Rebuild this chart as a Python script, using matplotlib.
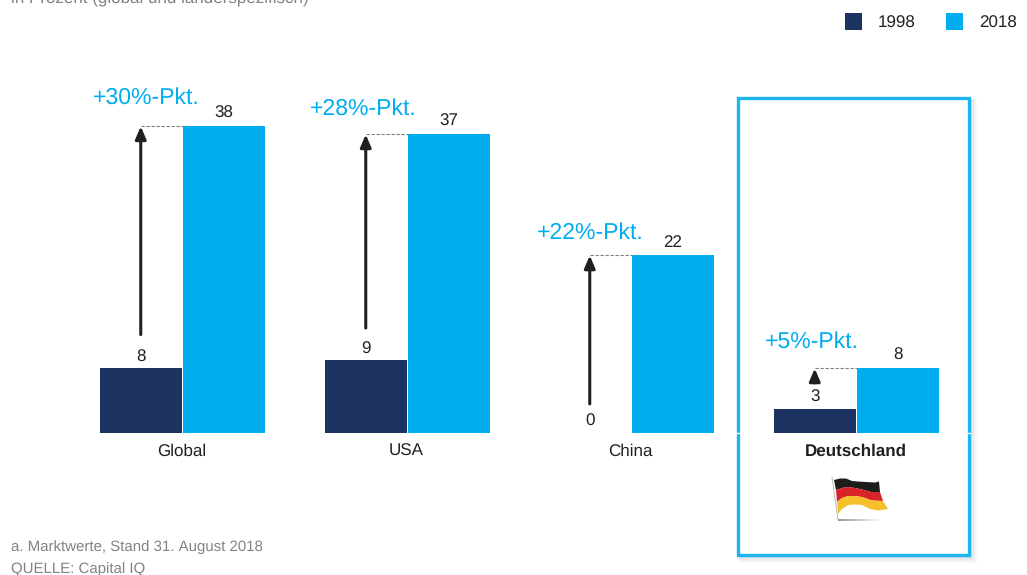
import matplotlib
matplotlib.use("Agg")
import matplotlib.pyplot as plt
import numpy as np
from matplotlib.patches import Rectangle, Polygon

plt.rcParams['font.family'] = ['Liberation Sans', 'DejaVu Sans']
plt.rcParams['text.hinting'] = 'no_hinting'
plt.rcParams['text.hinting_factor'] = 1
plt.rcParams['text.kerning_factor'] = 0

W, H = 1027, 575
BASE_Y = 433
PX_PER_UNIT = 8.07

countries = ['Global', 'USA', 'China', 'Deutschland']
values_1998 = [8, 9, 0, 3]
values_2018 = [38, 37, 22, 8]
changes = ['+30%-Pkt.', '+28%-Pkt.', '+22%-Pkt.', '+5%-Pkt.']
years = ['1998', '2018']

# layout of each group, in pixels
group_left = [100, 325, 549, 774]
change_dx = [6, -2.5, 1, -2.5]
change_rise = [29, 26, 23, 27]
arrow_start = [12.2, 13.0, 3.6, 6.2]
bar_w = 81.5
bar_gap = 1.5

navy = '#1c3260'
blue = '#00aeef'
dark = '#231f20'
grey = '#808285'

fig = plt.figure(figsize=(W / 100, H / 100), dpi=100, facecolor='white')

# overlay in pixel coordinates for frame, texts and flag
px = fig.add_axes([0, 0, 1, 1])
px.set_xlim(0, W)
px.set_ylim(H, 0)
px.axis('off')

# bars: x in pixels, y in data units with the baseline at BASE_Y
ax = fig.add_axes([0, 0, 1, 1], zorder=2)
ax.patch.set_alpha(0)
ax.set_xlim(0, W)
ax.set_ylim(-(H - BASE_Y) / PX_PER_UNIT, BASE_Y / PX_PER_UNIT)
ax.axis('off')

# highlight box with a soft shadow
for i in range(7, 0, -1):
    px.add_patch(Rectangle((738 + 1, 98 + 1), 231 + i, 457 + i, fc='black',
                           ec='none', alpha=0.02))
px.add_patch(Rectangle((738, 98), 231, 457, fc='white', ec='#1cb5f0', lw=2.4))

for i, name in enumerate(countries):
    left = group_left[i]
    x_old = left + bar_w / 2
    x_new = left + bar_w + bar_gap + bar_w / 2
    v_old, v_new = values_1998[i], values_2018[i]

    ax.bar(x_old, v_old, width=bar_w, color=navy)
    ax.bar(x_new, v_new, width=bar_w, color=blue)

    ax.text(x_new, v_new + 0.6, str(v_new), ha='center', va='bottom',
            fontsize=12.2, color=dark)
    ax.text(x_old, v_old + 0.4, str(v_old), ha='center',
            va='bottom', fontsize=12.2, color=dark)

    # dashed guide and rise arrow up to the new height
    ax.plot([x_old, x_new - bar_w / 2], [v_new, v_new], color='#808080',
            lw=0.8, ls=(0, (3, 1.5)))
    ax.annotate('', xy=(x_old, v_new), xytext=(x_old, arrow_start[i] if i != 3 else v_new - 1.8),
                arrowprops=dict(arrowstyle='-|>,head_width=0.32,head_length=0.75',
                                color=dark, lw=2.2, shrinkA=0, shrinkB=0))

    ax.text(x_old + change_dx[i], v_new + change_rise[i] / PX_PER_UNIT, changes[i],
            ha='center', va='center', fontsize=16.3, color=blue)

    px.text(left + bar_w, 456, name, ha='center', va='baseline',
            fontsize=12.2, color=dark,
            fontweight='bold' if name == 'Deutschland' else 'normal')

# white notch in the frame at the baseline
px.plot([737, 740], [BASE_Y, BASE_Y], color='white', lw=1, zorder=5)
px.plot([967, 970], [BASE_Y, BASE_Y], color='white', lw=1, zorder=5)

# legend
for label, color, x0 in zip(years, [navy, blue], [845, 946]):
    px.add_patch(Rectangle((x0, 13), 17, 17, fc=color, ec='none'))
    px.text(x0 + 33, 23, label, ha='left', va='center', fontsize=12.2, color=dark)

# subtitle running off the top edge, and footnotes
px.text(11, -2, 'in Prozent (global und länderspezifisch)', ha='left', va='center',
        fontsize=12.5, color=grey)
px.text(11, 547, 'a. Marktwerte, Stand 31. August 2018', ha='left', va='center',
        fontsize=11.15, color=grey)
px.text(11, 569, 'QUELLE: Capital IQ', ha='left', va='center',
        fontsize=11.15, color=grey)

# waving flag: pole, ground shadow and three bands between wavy edges
px.plot([832, 838], [477, 520], color='#b0b0b0', lw=0.6)
for k, x0 in enumerate(np.arange(838, 880, 3)):
    px.add_patch(Rectangle((x0, 518.5), 3, 2, fc='#707070', ec='none',
                           alpha=0.7 * (1 - k / 14)))
edge0 = [(834, 480), (840, 478.5), (846, 478.5), (852, 481), (858, 481.5), (866, 482), (875, 482.5), (879, 481.5)]
edge1 = [(836, 490), (842, 488), (848, 487), (855, 488), (862, 489.5), (871, 492), (880, 492)]
edge2 = [(837, 502), (842, 498), (848, 496), (855, 496), (862, 497), (872, 500.5), (883, 501)]
edge3 = [(838, 514), (842, 509), (848, 505), (855, 504.5), (862, 505), (870, 509), (878, 510.5), (888, 509)]
bands = [(edge0, edge1, '#1d1d1b'), (edge1, edge2, '#d8232a'), (edge2, edge3, '#f6c02c')]
for upper, lower, c in bands:
    px.add_patch(Polygon(upper + lower[::-1], fc=c, ec='none'))

fig.savefig('out.png', dpi=100)
